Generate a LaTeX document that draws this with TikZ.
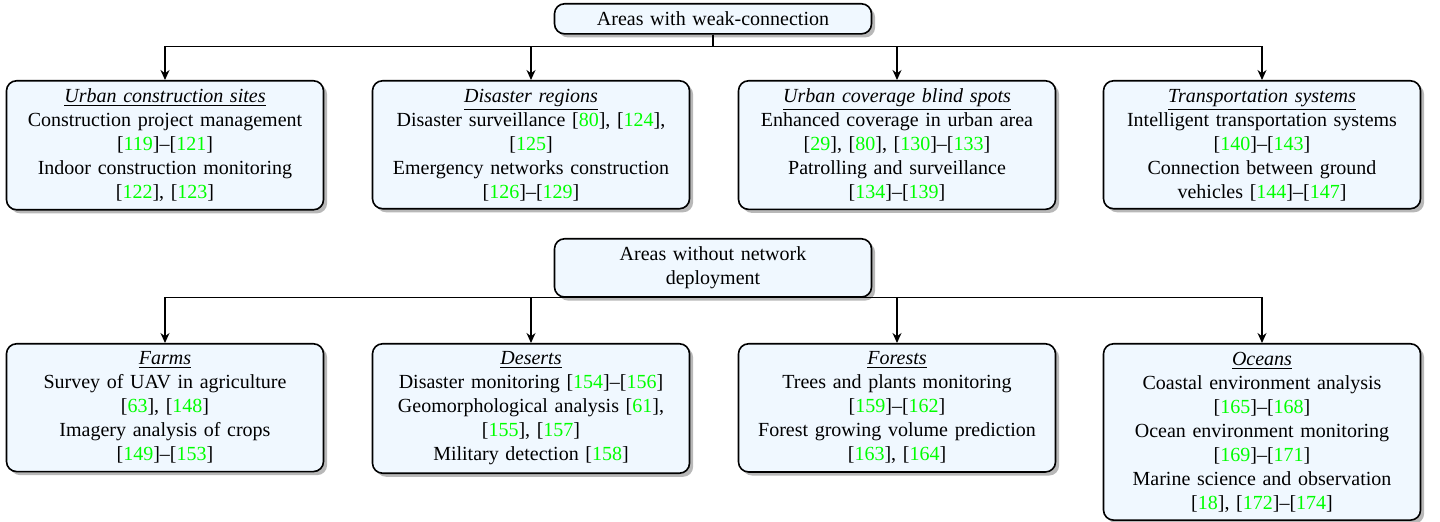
\documentclass[tikz,border=0pt]{standalone}
\usepackage{fontspec}
\setmainfont{Liberation Serif}
\usetikzlibrary{shadows,arrows.meta}
\definecolor{boxfill}{RGB}{240,248,255}
\newcommand\rf[1]{[\textcolor{green}{#1}]}
\newcommand\hd[1]{\underline{\textit{#1}}}
\begin{document}
\begin{tikzpicture}[x=0.5pt,y=-0.5pt,
  box/.style={draw=black, line width=0.8pt, rounded corners=5pt, fill=boxfill,
    text width=150pt, align=center, inner xsep=4.25pt, inner ysep=4pt,
    anchor=north, font=\fontsize{10}{12}\selectfont,
    drop shadow={shadow xshift=1.8pt, shadow yshift=-1.8pt, fill=black!28, opacity=1}},
  arr/.style={line width=0.6pt, -{Stealth[length=5pt,width=4.5pt]}}]
\useasboundingbox (0,0) rectangle (1440,522);
% top tree
\node[box] (r1) at (713,3) {Areas with weak-connection};
\node[box] (c1) at (165,80) {\hd{Urban construction sites}\\ Construction project management\\ \rf{119}--\rf{121}\\ Indoor construction monitoring\\ \rf{122}, \rf{123}};
\node[box] (c2) at (531,80) {\hd{Disaster regions}\\ Disaster surveillance \rf{80}, \rf{124},\\ \rf{125}\\ Emergency networks construction\\ \rf{126}--\rf{129}};
\node[box] (c3) at (897,80) {\hd{Urban coverage blind spots}\\ Enhanced coverage in urban area\\ \rf{29}, \rf{80}, \rf{130}--\rf{133}\\ Patrolling and surveillance\\ \rf{134}--\rf{139}};
\node[box] (c4) at (1262,80) {\hd{Transportation systems}\\ Intelligent transportation systems\\ \rf{140}--\rf{143}\\ Connection between ground\\ vehicles \rf{144}--\rf{147}};
\foreach \c in {c1,c2,c3,c4}
  \draw[arr] (r1.south) -- ++(0,12) -| (\c.north);
% bottom tree
\node[box] (r2) at (713,238) {Areas without network\\ deployment};
\node[box] (d1) at (165,343) {\hd{Farms}\\ Survey of UAV in agriculture\\ \rf{63}, \rf{148}\\ Imagery analysis of crops\\ \rf{149}--\rf{153}};
\node[box] (d2) at (531,343) {\hd{Deserts}\\ Disaster monitoring \rf{154}--\rf{156}\\ Geomorphological analysis \rf{61},\\ \rf{155}, \rf{157}\\ Military detection \rf{158}};
\node[box] (d3) at (897,343) {\hd{Forests}\\ Trees and plants monitoring\\ \rf{159}--\rf{162}\\ Forest growing volume prediction\\ \rf{163}, \rf{164}};
\node[box] (d4) at (1262,343) {\hd{Oceans}\\ Coastal environment analysis\\ \rf{165}--\rf{168}\\ Ocean environment monitoring\\ \rf{169}--\rf{171}\\ Marine science and observation\\ \rf{18}, \rf{172}--\rf{174}};
\foreach \d in {d1,d2,d3,d4}
  \draw[arr] (r2.south) -| (\d.north);
\end{tikzpicture}
\end{document}
